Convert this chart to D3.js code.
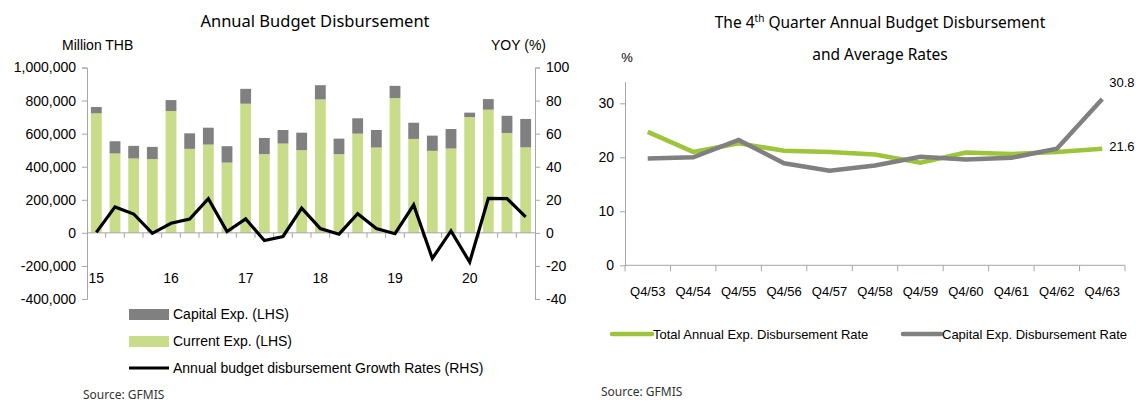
<!DOCTYPE html>
<html>
<head>
<meta charset="utf-8">
<script src="https://cdn.jsdelivr.net/npm/d3@7"></script>
<style>
  body { margin: 0; background: #fff; }
  text { font-family: "Liberation Sans", Arial, sans-serif; fill: #000; }
  .ttl { font-family: "Noto Sans", sans-serif; }
  .axis path, .axis line { stroke: #a6a6a6; }
  .axis text { font-size: 14px; }
</style>
</head>
<body>
<div id="svg-area"></div>
<script>
// ---------- left chart data ----------
var periods = ["15Q1","15Q2","15Q3","15Q4","16Q1","16Q2","16Q3","16Q4",
               "17Q1","17Q2","17Q3","17Q4","18Q1","18Q2","18Q3","18Q4",
               "19Q1","19Q2","19Q3","19Q4","20Q1","20Q2","20Q3","20Q4"];
var yearLabels = ["15","16","17","18","19","20"];
var currentExp = [723000,480000,450000,446000,737000,508000,534000,425000,
                  781000,476000,540000,500000,807000,476000,600000,516000,
                  815000,568000,496000,510000,700000,745000,604000,517000];
var capitalExp = [38000,74000,76000,74000,66000,94000,102000,99000,
                  90000,98000,82000,106000,86000,94000,93000,106000,
                  74000,98000,92000,118000,27000,64000,104000,172000];
var growthRate = [0.3,15.7,11.4,-0.3,5.8,8.4,20.7,0.8,8.4,-4.6,-2.2,15,
                  2.6,-0.8,11.6,2.6,-0.5,16.9,-15.5,1.2,-17.7,20.9,20.7,9.6];
var leftTicks = [-400000,-200000,0,200000,400000,600000,800000,1000000];
var rightTicks = [-40,-20,0,20,40,60,80,100];

// ---------- right chart data ----------
var quarters = ["Q4/53","Q4/54","Q4/55","Q4/56","Q4/57","Q4/58","Q4/59","Q4/60","Q4/61","Q4/62","Q4/63"];
var totalRate = [24.7,21.0,22.6,21.2,21.0,20.5,19.0,20.9,20.6,21.0,21.6];
var capitalRate = [19.8,20.0,23.2,18.9,17.5,18.5,20.1,19.6,19.9,21.6,30.8];
var rateTicks = [0,10,20,30];

var svgWidth = 1136, svgHeight = 404;
var svg = d3.select("#svg-area").append("svg")
  .attr("width", svgWidth).attr("height", svgHeight);

var fmt = function(d) { return d3.format(",")(d).replace("\u2212", "-"); };

////////// Left chart //////////
var x = d3.scaleBand().domain(periods).range([87, 535])
  .paddingInner(0.42).paddingOuter(0.21);
var yL = d3.scaleLinear().domain([-400000, 1000000]).range([299, 67.5]);
var yR = d3.scaleLinear().domain([-40, 100]).range([299, 67.5]);

svg.append("text").attr("class", "ttl").attr("x", 315).attr("y", 27)
  .attr("text-anchor", "middle").style("font-size", "16.5px")
  .text("Annual Budget Disbursement");
svg.append("text").attr("x", 62).attr("y", 50).style("font-size", "14px").text("Million THB");
svg.append("text").attr("x", 546).attr("y", 50).attr("text-anchor", "end")
  .style("font-size", "14px").text("YOY (%)");

// bars
var bars = svg.append("g");
bars.selectAll("rect.cur").data(periods).enter().append("rect")
  .attr("class", "cur")
  .attr("x", d => x(d)).attr("width", x.bandwidth())
  .attr("y", (d, i) => yL(currentExp[i]))
  .attr("height", (d, i) => yL(0) - yL(currentExp[i]))
  .attr("fill", "#c8dc8a");
bars.selectAll("rect.cap").data(periods).enter().append("rect")
  .attr("class", "cap")
  .attr("x", d => x(d)).attr("width", x.bandwidth())
  .attr("y", (d, i) => yL(currentExp[i] + capitalExp[i]))
  .attr("height", (d, i) => yL(currentExp[i]) - yL(currentExp[i] + capitalExp[i]))
  .attr("fill", "#808080");

// axes
svg.append("g").attr("class", "axis")
  .attr("transform", "translate(87,0)")
  .call(d3.axisLeft(yL).tickValues(leftTicks).tickFormat(fmt).tickSize(5).tickSizeOuter(5).tickPadding(6))
  .call(g => g.selectAll("text").style("fill", "#000"));
svg.append("g").attr("class", "axis")
  .attr("transform", "translate(535,0)")
  .call(d3.axisRight(yR).tickValues(rightTicks).tickFormat(fmt).tickSize(5).tickSizeOuter(5).tickPadding(6))
  .call(g => g.selectAll("text").style("fill", "#000"));

// category axis along zero
var xAxisG = svg.append("g").attr("class", "axis");
xAxisG.append("line").attr("x1", 87).attr("x2", 535)
  .attr("y1", yL(0)).attr("y2", yL(0));
var step = x.step();
xAxisG.selectAll("line.tk").data(periods.slice(1)).enter().append("line")
  .attr("class", "tk")
  .attr("x1", d => x(d) - step * x.paddingInner() / 2)
  .attr("x2", d => x(d) - step * x.paddingInner() / 2)
  .attr("y1", yL(0)).attr("y2", yL(0) + 5);
xAxisG.selectAll("text").data(yearLabels).enter().append("text")
  .attr("x", (d, i) => x(periods[i * 4]) + x.bandwidth() / 2)
  .attr("y", 283).attr("text-anchor", "middle")
  .style("font-size", "14px").style("fill", "#000")
  .text(d => d);

// growth line
var growthLine = d3.line()
  .x((d, i) => x(periods[i]) + x.bandwidth() / 2)
  .y(d => yR(d));
svg.append("path").datum(growthRate)
  .attr("d", growthLine).attr("fill", "none")
  .attr("stroke", "#000").attr("stroke-width", 3.2);

// legend
var legL = svg.append("g").attr("transform", "translate(129,0)");
legL.append("rect").attr("x", 0).attr("y", 309).attr("width", 40).attr("height", 11).attr("fill", "#808080");
legL.append("rect").attr("x", 0).attr("y", 336).attr("width", 40).attr("height", 11).attr("fill", "#c8dc8a");
legL.append("line").attr("x1", 0).attr("x2", 40).attr("y1", 368).attr("y2", 368)
  .attr("stroke", "#000").attr("stroke-width", 3.2);
legL.selectAll("text").data(["Capital Exp. (LHS)", "Current Exp. (LHS)", "Annual budget disbursement Growth Rates (RHS)"])
  .enter().append("text")
  .attr("x", 44).attr("y", (d, i) => 319 + i * 27)
  .style("font-size", "14px").text(d => d);

svg.append("text").attr("class", "ttl").attr("x", 83).attr("y", 399)
  .style("font-size", "12px").style("fill", "#333").text("Source: GFMIS");

////////// Right chart //////////
var xr = d3.scaleBand().domain(quarters).range([625, 1125]);
var yr = d3.scaleLinear().domain([0, 34]).range([265.3, 81.7]);

var t1 = svg.append("text").attr("class", "ttl").attr("x", 880).attr("y", 28)
  .attr("text-anchor", "middle").style("font-size", "15.5px");
t1.append("tspan").text("The 4");
t1.append("tspan").attr("dy", -6).style("font-size", "10px").text("th");
t1.append("tspan").attr("dy", 6).text(" Quarter Annual Budget Disbursement");
svg.append("text").attr("class", "ttl").attr("x", 880).attr("y", 60)
  .attr("text-anchor", "middle").style("font-size", "15.5px").text("and Average Rates");
svg.append("text").attr("x", 627).attr("y", 62).attr("text-anchor", "middle")
  .style("font-size", "13px").text("%");

svg.append("g").attr("class", "axis")
  .attr("transform", "translate(625,0)")
  .call(d3.axisLeft(yr).tickValues(rateTicks).tickSize(5).tickSizeOuter(0).tickPadding(6))
  .call(g => g.selectAll("text").style("fill", "#000").style("font-size", "14px"));

var xrG = svg.append("g").attr("class", "axis");
xrG.append("line").attr("x1", 625).attr("x2", 1125).attr("y1", yr(0)).attr("y2", yr(0));
xrG.selectAll("line.tk").data(quarters.concat(["end"])).enter().append("line")
  .attr("class", "tk")
  .attr("x1", (d, i) => i < quarters.length ? xr(d) : 1125)
  .attr("x2", (d, i) => i < quarters.length ? xr(d) : 1125)
  .attr("y1", yr(0)).attr("y2", yr(0) + 6);
xrG.selectAll("text").data(quarters).enter().append("text")
  .attr("x", d => xr(d) + xr.bandwidth() / 2).attr("y", 296)
  .attr("text-anchor", "middle").style("font-size", "13px").style("fill", "#000")
  .text(d => d);

var rateLine = d3.line()
  .x((d, i) => xr(quarters[i]) + xr.bandwidth() / 2)
  .y(d => yr(d));
svg.append("path").datum(totalRate).attr("d", rateLine)
  .attr("fill", "none").attr("stroke", "#9dc43a").attr("stroke-width", 4.5);
svg.append("path").datum(capitalRate).attr("d", rateLine)
  .attr("fill", "none").attr("stroke", "#808080").attr("stroke-width", 4.5);

var lastX = xr(quarters[10]) + xr.bandwidth() / 2;
svg.append("text").attr("x", lastX + 7).attr("y", yr(capitalRate[10]) - 12)
  .style("font-size", "13px").text(capitalRate[10].toFixed(1));
svg.append("text").attr("x", lastX + 7).attr("y", yr(totalRate[10]) + 2)
  .style("font-size", "13px").text(totalRate[10].toFixed(1));

// legend
var legR = svg.append("g");
legR.append("line").attr("x1", 612).attr("x2", 652).attr("y1", 334).attr("y2", 334)
  .attr("stroke", "#9dc43a").attr("stroke-width", 4.5).attr("stroke-linecap", "round");
legR.append("text").attr("x", 653).attr("y", 339).style("font-size", "13px")
  .text("Total Annual Exp. Disbursement Rate");
legR.append("line").attr("x1", 903).attr("x2", 941).attr("y1", 334).attr("y2", 334)
  .attr("stroke", "#808080").attr("stroke-width", 4.5).attr("stroke-linecap", "round");
legR.append("text").attr("x", 942).attr("y", 339).style("font-size", "13px")
  .text("Capital Exp. Disbursement Rate");

svg.append("text").attr("class", "ttl").attr("x", 601).attr("y", 396)
  .style("font-size", "12px").style("fill", "#333").text("Source: GFMIS");
</script>
</body>
</html>
